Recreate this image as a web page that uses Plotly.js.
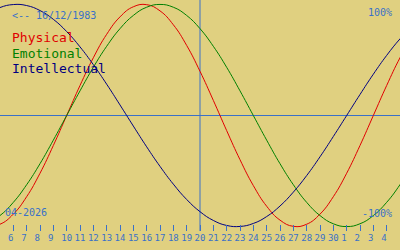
<!DOCTYPE html>
<html>
<head>
<meta charset="utf-8">
<script src="https://cdn.plot.ly/plotly-3.0.1.min.js"></script>
<style>
html,body{margin:0;padding:0;background:#e0d080;}
#chart{width:400px;height:250px;}
</style>
</head>
<body>
<div id="chart"></div>
<script>
// day index: 1..30 = April 2026, 31..35 = May 2026
const days = [4,5,6,7,8,9,10,11,12,13,14,15,16,17,18,19,20,21,22,23,24,25,26,27,28,29,30,31,32,33,34,35,36];
const physical = [-0.998,-0.979,-0.888,-0.731,-0.520,-0.270,0,0.270,0.520,0.731,0.888,0.979,0.998,0.942,0.817,0.631,0.398,0.136,-0.136,-0.398,-0.631,-0.817,-0.942,-0.998,-0.979,-0.888,-0.731,-0.520,-0.270,0,0.270,0.520,0.731];
const emotional = [-0.975,-0.901,-0.782,-0.623,-0.434,-0.222,0,0.222,0.434,0.623,0.782,0.901,0.975,1,0.975,0.901,0.782,0.623,0.434,0.222,0,-0.222,-0.434,-0.623,-0.782,-0.901,-0.975,-1,-0.975,-0.901,-0.782,-0.623,-0.434];
const intellectual = [0.910,0.972,0.999,0.990,0.945,0.866,0.756,0.618,0.458,0.282,0.095,-0.095,-0.282,-0.458,-0.618,-0.756,-0.866,-0.945,-0.990,-0.999,-0.972,-0.910,-0.815,-0.690,-0.541,-0.372,-0.189,0,0.189,0.372,0.541,0.690,0.815];
const tickDays = [6,7,8,9,10,11,12,13,14,15,16,17,18,19,20,21,22,23,24,25,26,27,28,29,30,31,32,33,34];
const tickLabels = ["6","7","8","9","10","11","12","13","14","15","16","17","18","19","20","21","22","23","24","25","26","27","28","29","30","1","2","3","4"];
const today = 20;
const birthLabel = "<-- 16/12/1983";
const monthLabel = "04-2026";
const seriesNames = ["Physical","Emotional","Intellectual"];

const bg = "#e0d080";
const blue = "#3a70c8";
const mono = "DejaVu Sans Mono, monospace";
const colors = ["#e00000","#008000","#000080"];

const padLabel = s => s.length === 1 ? s + "\u00a0" : s;

const traces = [physical, emotional, intellectual].map((ys, i) => ({
  x: days, y: ys, type: "scatter", mode: "lines",
  line: {color: colors[i], width: 1, shape: "spline", smoothing: 1.3},
  name: seriesNames[i], hoverinfo: "skip"
}));

const legendAnn = seriesNames.map((n, i) => ({
  xref: "paper", yref: "paper", x: 10/400, y: 1 - (38 + 15*i)/231,
  xanchor: "left", yanchor: "middle", showarrow: false,
  text: n, font: {family: mono, size: 13, color: colors[i]}
}));

const layout = {
  width: 400, height: 250,
  margin: {l: 0, r: 0, t: 0, b: 19, pad: 0},
  paper_bgcolor: bg, plot_bgcolor: bg,
  showlegend: false,
  xaxis: {
    range: [5, 35], tickvals: tickDays, ticktext: tickLabels.map(padLabel),
    ticks: "inside", ticklen: 6, tickcolor: blue, tickwidth: 1,
    tickfont: {family: mono, size: 9, color: blue},
    showgrid: false, zeroline: false, showline: false, fixedrange: true
  },
  yaxis: {
    range: [-1.04, 1.04], showticklabels: false, ticks: "",
    showgrid: false, zeroline: true, zerolinecolor: blue, zerolinewidth: 1,
    showline: false, fixedrange: true
  },
  shapes: [{type: "line", xref: "x", yref: "paper", x0: today, x1: today, y0: 0, y1: 1,
            line: {color: blue, width: 1}, layer: "below"}],
  annotations: [
    {xref: "paper", yref: "paper", x: 10/400, y: 1 - 16/231, xanchor: "left", yanchor: "middle",
     showarrow: false, text: birthLabel.replace("<", "&lt;"), font: {family: mono, size: 10, color: blue}},
    {xref: "paper", yref: "paper", x: 394/400, y: 1 - 12/231, xanchor: "right", yanchor: "middle",
     showarrow: false, text: "100%", font: {family: mono, size: 10, color: blue}},
    {xref: "paper", yref: "paper", x: 394/400, y: 1 - 213/231, xanchor: "right", yanchor: "middle",
     showarrow: false, text: "-100%", font: {family: mono, size: 10, color: blue}},
    {xref: "paper", yref: "paper", x: 3/400, y: 1 - 212/231, xanchor: "left", yanchor: "middle",
     showarrow: false, text: monthLabel, font: {family: mono, size: 10, color: blue}}
  ].concat(legendAnn)
};

Plotly.newPlot("chart", traces, layout, {staticPlot: true, displayModeBar: false});
</script>
</body>
</html>
